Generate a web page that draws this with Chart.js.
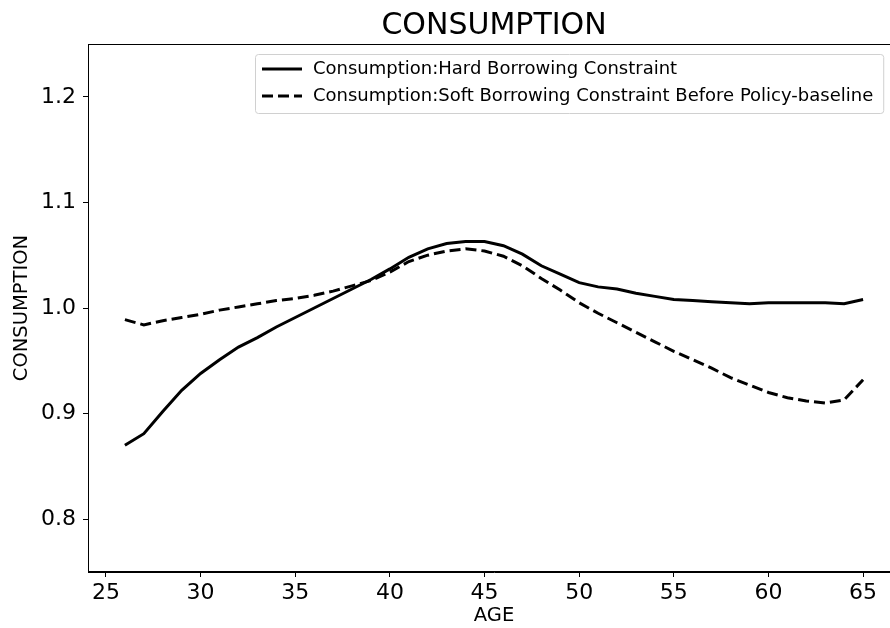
<!DOCTYPE html>
<html>
<head>
<meta charset="utf-8">
<script src="https://cdn.jsdelivr.net/npm/chart.js@4"></script>
<style>
  html, body { margin: 0; padding: 0; background: #fff; overflow: hidden; }
  #wrap { width: 902px; height: 628px; }
</style>
</head>
<body>
<div id="wrap"><canvas id="chart"></canvas></div>
<script>
const ages = [26, 27, 28, 29, 30, 31, 32, 33, 34, 35, 36, 37, 38, 39, 40, 41, 42, 43, 44, 45,
  46, 47, 48, 49, 50, 51, 52, 53, 54, 55, 56, 57, 58, 59, 60, 61, 62, 63, 64, 65];

const hardConstraint = [0.870, 0.881, 0.902, 0.922, 0.938, 0.951, 0.963, 0.972, 0.982, 0.991,
  1.000, 1.009, 1.018, 1.027, 1.037, 1.048, 1.056, 1.061, 1.063, 1.063,
  1.059, 1.051, 1.040, 1.032, 1.024, 1.020, 1.018, 1.014, 1.011, 1.008,
  1.007, 1.006, 1.005, 1.004, 1.005, 1.005, 1.005, 1.005, 1.004, 1.008];

const softConstraint = [0.989, 0.984, 0.988, 0.991, 0.994, 0.998, 1.001, 1.004, 1.007, 1.009,
  1.012, 1.016, 1.021, 1.026, 1.034, 1.044, 1.050, 1.054, 1.056, 1.054,
  1.049, 1.040, 1.028, 1.017, 1.005, 0.995, 0.986, 0.977, 0.968, 0.959,
  0.951, 0.943, 0.934, 0.927, 0.920, 0.915, 0.912, 0.910, 0.913, 0.932];

const xTicks = [25, 30, 35, 40, 45, 50, 55, 60, 65];
const yTicks = [0.8, 0.9, 1.0, 1.1, 1.2];

const seriesLabels = [
  "Consumption:Hard Borrowing Constraint",
  "Consumption:Soft Borrowing Constraint Before Policy-baseline"
];

const FONT = "'DejaVu Sans', sans-serif";

// title, frame and legend box drawn like the matplotlib original
const decorations = {
  id: "decorations",
  afterDraw(chart) {
    const { ctx, chartArea: a } = chart;
    ctx.save();
    ctx.strokeStyle = "#000";
    ctx.lineWidth = 1;
    ctx.strokeRect(a.left + 0.5, a.top + 0.5, a.right - a.left - 1, a.bottom - a.top - 1);

    ctx.fillStyle = "#000";
    ctx.font = "30px " + FONT;
    ctx.textAlign = "center";
    ctx.textBaseline = "middle";
    ctx.fillText("CONSUMPTION", (a.left + a.right) / 2, 26);

    // legend
    ctx.font = "18px " + FONT;
    const w = Math.max(...seriesLabels.map(t => ctx.measureText(t).width));
    const x0 = 255, y0 = 54, h = 59;
    const bw = 58 + w + 10;
    ctx.beginPath();
    ctx.roundRect(x0 + 0.5, y0 + 0.5, bw, h, 3);
    ctx.fillStyle = "rgba(255,255,255,0.8)";
    ctx.fill();
    ctx.strokeStyle = "#d0d0d0";
    ctx.stroke();
    chart.data.datasets.forEach((ds, i) => {
      const y = 69 + i * 27;
      ctx.beginPath();
      ctx.setLineDash(ds.borderDash || []);
      ctx.lineWidth = ds.borderWidth;
      ctx.strokeStyle = ds.borderColor;
      ctx.moveTo(262, y);
      ctx.lineTo(302, y);
      ctx.stroke();
      ctx.setLineDash([]);
      ctx.fillStyle = "#000";
      ctx.textAlign = "left";
      ctx.fillText(ds.label, 313, y);
    });
    ctx.restore();
  }
};

new Chart(document.getElementById("chart"), {
  type: "line",
  data: {
    labels: ages,
    datasets: [
      {
        label: seriesLabels[0],
        data: ages.map((a, i) => ({ x: a, y: hardConstraint[i] })),
        borderColor: "#000",
        borderWidth: 3,
        pointRadius: 0,
        tension: 0
      },
      {
        label: seriesLabels[1],
        data: ages.map((a, i) => ({ x: a, y: softConstraint[i] })),
        borderColor: "#000",
        borderWidth: 3,
        borderDash: [11, 5],
        pointRadius: 0,
        tension: 0
      }
    ]
  },
  options: {
    responsive: true,
    maintainAspectRatio: false,
    animation: false,
    layout: { padding: { top: 44, right: 2, left: 0, bottom: 0 } },
    plugins: {
      legend: { display: false },
      tooltip: { enabled: false },
      title: { display: false }
    },
    scales: {
      x: {
        type: "linear",
        min: 24.05,
        max: 66.95,
        afterBuildTicks: s => { s.ticks = xTicks.map(v => ({ value: v })); },
        afterFit: s => { s.height = 56; },
        grid: { drawOnChartArea: false, drawTicks: true, tickLength: 5, color: "#000" },
        border: { color: "#000" },
        ticks: { color: "#000", font: { family: FONT, size: 22 }, padding: 3, maxRotation: 0 },
        title: { display: true, text: "AGE", color: "#000", font: { family: FONT, size: 19.5 }, padding: { top: 0, bottom: 0 } }
      },
      y: {
        min: 0.75,
        max: 1.25,
        afterBuildTicks: s => { s.ticks = yTicks.map(v => ({ value: v })); },
        afterFit: s => { s.width = 88; },
        grid: { drawOnChartArea: false, drawTicks: true, tickLength: 5, color: "#000" },
        border: { color: "#000" },
        ticks: { color: "#000", font: { family: FONT, size: 22 }, padding: 7, callback: v => v.toFixed(1) },
        title: { display: true, text: "CONSUMPTION", color: "#000", font: { family: FONT, size: 19.5 }, padding: { top: 10, bottom: 0 } }
      }
    }
  },
  plugins: [decorations]
});
</script>
</body>
</html>
